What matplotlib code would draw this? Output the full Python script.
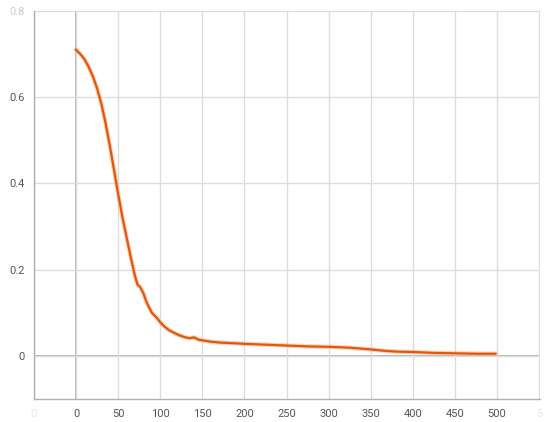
import numpy as np
import matplotlib.pyplot as plt

plt.rcParams['font.family'] = ['Roboto', 'DejaVu Sans']

steps = [0, 5, 10, 15, 20, 25, 30, 35, 40, 45, 50, 55, 60, 65, 70, 73, 76, 80, 83,
         86, 90, 95, 100, 105, 110, 115, 120, 125, 130, 135, 140, 145, 150, 160,
         170, 180, 190, 200, 225, 250, 275, 300, 325, 350, 365, 380, 400, 425,
         450, 475, 498]
loss = [0.710, 0.700, 0.688, 0.670, 0.648, 0.620, 0.585, 0.540, 0.488, 0.432,
        0.375, 0.322, 0.275, 0.228, 0.185, 0.165, 0.160, 0.145, 0.128,
        0.115, 0.100, 0.090, 0.078, 0.068, 0.060, 0.055, 0.050, 0.046, 0.043,
        0.041, 0.043, 0.038, 0.036, 0.033, 0.031, 0.030, 0.029, 0.028, 0.026,
        0.024, 0.022, 0.021, 0.019, 0.015, 0.012, 0.010, 0.009, 0.007,
        0.006, 0.005, 0.005]

fig = plt.figure(figsize=(5.5, 4.22), dpi=100)
ax = fig.add_axes([34 / 550, 23 / 422, 506 / 550, 388 / 422])

ax.plot(steps, loss, color='#f6b48a', lw=3.2, alpha=0.6, zorder=3)
ax.plot(steps, loss, color='#e0580c', lw=1.6, zorder=4)

ax.set_xlim(-50, 551)
ax.set_ylim(-0.1, 0.8)
ax.set_xticks(np.arange(-50, 551, 50))
ax.set_xticklabels(['0'] + [str(v) for v in range(0, 501, 50)] + ['5'])
ax.set_yticks([0, 0.2, 0.4, 0.6, 0.8])
ax.set_yticklabels(['0', '0.2', '0.4', '0.6', '0.8'])

ax.grid(True, color='#dcdcdc', lw=1.0, zorder=0)
ax.axhline(0, color='#a8a8a8', lw=1.2, zorder=1)
ax.axvline(0, color='#a8a8a8', lw=1.2, zorder=1)

for s in ['top', 'right']:
    ax.spines[s].set_visible(False)
for s in ['left', 'bottom']:
    ax.spines[s].set_color('#b0b0b0')
    ax.spines[s].set_linewidth(1.0)

ax.tick_params(length=0, labelsize=8, colors='#555555', pad=7)
xl = ax.get_xticklabels()
xl[0].set_color('#e6e6e6')
xl[-1].set_color('#e6e6e6')
ax.get_yticklabels()[-1].set_color('#cccccc')

plt.savefig('out.png', dpi=100)
